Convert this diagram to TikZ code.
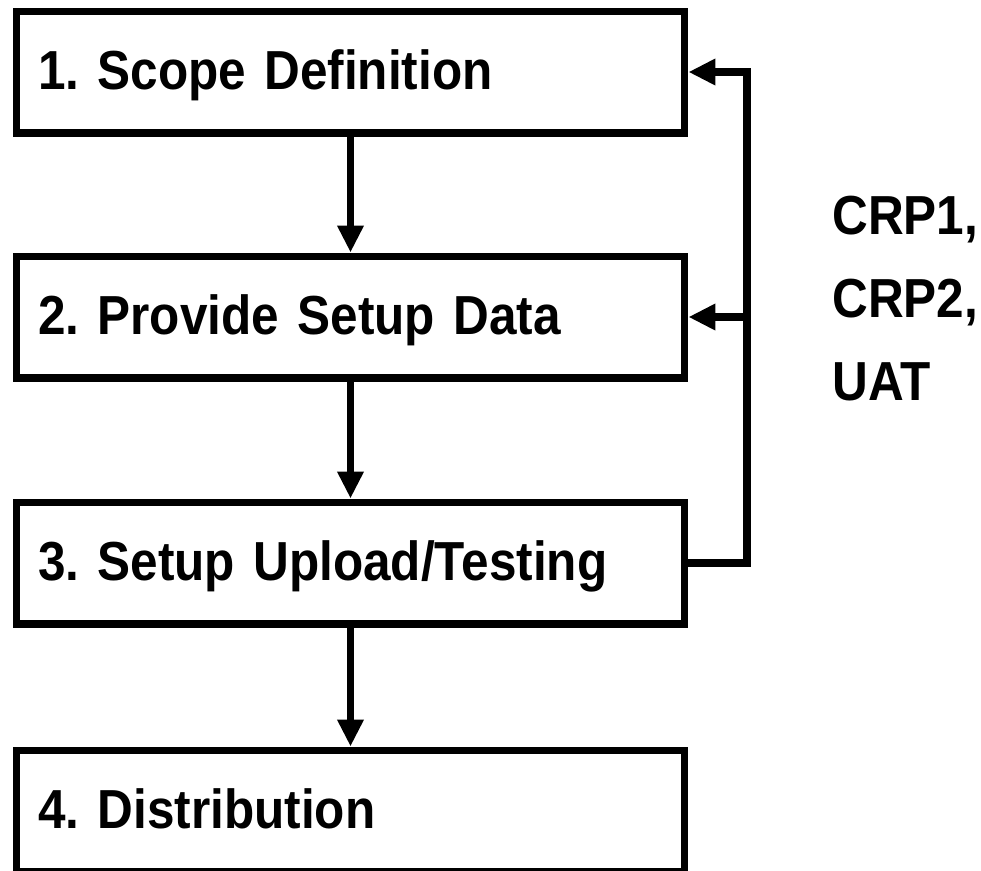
\documentclass[tikz,border=0pt]{standalone}
\usepackage{fontspec}
\newfontfamily\diagfont{Liberation Sans Bold}[FakeStretch=0.9,WordSpace=0.8]
\usetikzlibrary{arrows.meta}
\frenchspacing

\begin{document}
\begin{tikzpicture}[x=0.02cm,y=-0.02cm]
\tikzset{stage/.style = {shape=rectangle,draw,line width=4pt,minimum width=13.38cm,minimum height=2.44cm,inner xsep=0.44cm,text width=12.5cm,align=left,text height=0.8cm,text depth=0.12cm,font=\diagfont\fontsize{31.3}{40}\selectfont}}
\tikzset{edge/.style = {-{Triangle[length=0.54cm,width=0.5cm]},line width=4pt}}
\useasboundingbox (0,0) rectangle (981,870);

\node[stage] (s1) at (350.5,72) {1. Scope Definition};
\node[stage] (s2) at (350.5,317) {2. Provide Setup Data};
\node[stage] (s3) at (350.5,563) {3. Setup Upload/Testing};
\node[stage] (s4) at (350.5,811) {4. Distribution};
\coordinate (turn) at (747,72);
\node[anchor=north west,inner sep=0pt,align=left,font=\diagfont\fontsize{31.3}{47.2}\selectfont] (crp) at (832,196) {CRP1,\\CRP2,\\UAT};

\draw[edge] (s1) to (s2);
\draw[edge] (s2) to (s3);
\draw[edge] (s3) to (s4);
\draw[edge] (s3.east) -| (turn) -- (s1.east);
\draw[edge] (turn |- s2.east) -- (s2.east);
\end{tikzpicture}
\end{document}
